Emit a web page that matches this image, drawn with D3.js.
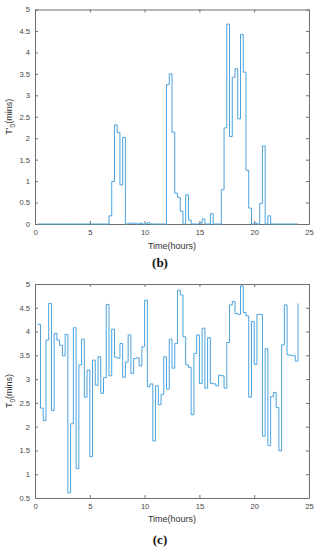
<!DOCTYPE html>
<html>
<head>
<meta charset="utf-8">
<script src="https://cdn.jsdelivr.net/npm/d3@7"></script>
<style>
  body { margin: 0; background: #fff; }
  svg { display: block; }
</style>
</head>
<body>
<div id="chart"></div>
<script>
const width = 320
const height = 550

// 15-minute steps, first sample at 0.25 h, last at 24 h
const stepHours = 0.25;

// panel (b): T'0 in minutes
const tPrimeValues = [
  0, 0, 0, 0, 0, 0, 0, 0,            // 0.25 - 2.0
  0, 0, 0, 0, 0, 0, 0, 0,            // 2.25 - 4.0
  0, 0, 0, 0, 0, 0, 0, 0,            // 4.25 - 6.0
  0, 0, 0.19, 0.99, 2.31, 2.13, 0.91, 2.02, // 6.25 - 8.0
  0, 0.02, 0.02, 0.02, 0, 0.02, 0, 0, // 8.25 - 10.0
  0.03, 0, 0, 0, 0, 0, 0, 3.25,      // 10.25 - 12.0
  3.50, 2.14, 0.72, 0.62, 0.30, 0, 0.68, 0.09, // 12.25 - 14.0
  0, 0, 0, 0.02, 0.12, 0, 0, 0.24,   // 14.25 - 16.0
  0, 0, 0, 0.80, 2.24, 4.66, 2.04, 3.42, // 16.25 - 18.0
  3.62, 2.45, 4.42, 3.54, 1.25, 0.37, 0, 0.02, // 18.25 - 20.0
  0, 0.48, 1.82, 0, 0.19, 0, 0, 0,   // 20.25 - 22.0
  0, 0, 0, 0, 0, 0, 0, 0             // 22.25 - 24.0
];

// panel (c): T0 in minutes
const tValues = [
  4.15, 2.39, 2.13, 3.82, 4.59, 2.34, 3.96, 3.82,   // 0.25 - 2.0
  3.71, 3.49, 3.94, 0.61, 2.06, 4.08, 1.12, 3.30,   // 2.25 - 4.0
  3.84, 2.62, 3.19, 1.37, 3.40, 2.87, 3.47, 2.70,   // 4.25 - 6.0
  3.03, 4.57, 3.07, 4.05, 3.46, 3.44, 3.75, 3.04,   // 6.25 - 8.0
  3.36, 3.93, 3.12, 3.43, 3.45, 3.28, 3.68, 4.66,   // 8.25 - 10.0
  2.84, 2.90, 1.70, 2.86, 2.46, 2.68, 3.47, 2.79,   // 10.25 - 12.0
  3.84, 3.23, 3.75, 4.87, 4.77, 3.89, 3.30, 3.25,   // 12.25 - 14.0
  2.25, 3.54, 3.93, 2.91, 4.07, 2.81, 3.87, 2.91,   // 14.25 - 16.0
  2.90, 2.86, 3.08, 3.07, 2.81, 3.77, 4.56, 4.63,   // 16.25 - 18.0
  4.38, 4.36, 4.96, 4.40, 4.33, 2.62, 4.21, 3.31,   // 18.25 - 20.0
  4.36, 4.36, 1.80, 3.64, 1.60, 2.63, 2.72, 2.40,   // 20.25 - 22.0
  1.49, 3.72, 4.56, 3.51, 3.50, 3.49, 3.38, 4.59    // 22.25 - 24.0
];

const xTicks = [0, 5, 10, 15, 20, 25];
const yTicksB = [0, 0.5, 1, 1.5, 2, 2.5, 3, 3.5, 4, 4.5, 5];
const yTicksC = [0.5, 1, 1.5, 2, 2.5, 3, 3.5, 4, 4.5, 5];

const lineColor = "#4ba3de";
const axisColor = "#6f6f6f";

const svg = d3.select("#chart").append("svg")
  .attr("width", width)
  .attr("height", height);

function panel(opts) {
  const x = d3.scaleLinear().domain([0, 25]).range([35, 309]);
  const y = d3.scaleLinear().domain(opts.yDomain).range([opts.bottom, opts.top]);

  const g = svg.append("g");

  const pts = opts.values.map((v, i) => [(i + 1) * stepHours, v]);

  // axes, MATLAB-like box with inward ticks
  g.append("g")
    .attr("transform", `translate(0,${opts.bottom})`)
    .call(d3.axisBottom(x).tickValues(xTicks).tickSizeInner(-3).tickSizeOuter(0).tickPadding(6).tickFormat(d3.format("")));
  g.append("g")
    .attr("transform", `translate(0,${opts.top})`)
    .call(d3.axisTop(x).tickValues(xTicks).tickSizeInner(-3).tickSizeOuter(0).tickFormat(""));
  g.append("g")
    .attr("transform", "translate(35,0)")
    .call(d3.axisLeft(y).tickValues(opts.yTicks).tickSizeInner(-3).tickSizeOuter(0).tickPadding(5).tickFormat(d3.format("")));
  g.append("g")
    .attr("transform", "translate(309,0)")
    .call(d3.axisRight(y).tickValues(opts.yTicks).tickSizeInner(-3).tickSizeOuter(0).tickFormat(""));

  g.selectAll(".domain").attr("stroke", axisColor);
  g.selectAll(".tick line").attr("stroke", axisColor);
  g.selectAll(".tick text")
    .attr("fill", "#444")
    .attr("font-family", "Liberation Sans, Arial, sans-serif")
    .attr("font-size", 7.6);

  const line = d3.line()
    .x(d => x(d[0]))
    .y(d => y(d[1]))
    .curve(d3.curveStepAfter);

  g.append("path")
    .datum(pts)
    .attr("fill", "none")
    .attr("stroke", lineColor)
    .attr("stroke-width", 1)
    .attr("d", line);

  // x label
  g.append("text")
    .attr("x", 172)
    .attr("y", opts.xLabelY)
    .attr("text-anchor", "middle")
    .attr("fill", "#333")
    .attr("font-family", "Liberation Sans, Arial, sans-serif")
    .attr("font-size", 9)
    .text("Time(hours)");

  // y label, rotated
  const yl = g.append("text")
    .attr("transform", `translate(12,${(opts.top + opts.bottom) / 2}) rotate(-90)`)
    .attr("text-anchor", "middle")
    .attr("fill", "#333")
    .attr("font-family", "Liberation Sans, Arial, sans-serif")
    .attr("font-size", 9);
  yl.append("tspan").text(opts.yName);
  yl.append("tspan").attr("font-size", 6.5).attr("dy", 2.5).text("0");
  yl.append("tspan").attr("dy", -2.5).text("(mins)");

  // caption
  svg.append("text")
    .attr("x", 160)
    .attr("y", opts.captionY)
    .attr("text-anchor", "middle")
    .attr("fill", "#111")
    .attr("font-family", "Liberation Serif, Times New Roman, serif")
    .attr("font-weight", "bold")
    .attr("font-size", 13)
    .text(opts.caption);
}

panel({
  values: tPrimeValues,
  yDomain: [0, 5],
  yTicks: yTicksB,
  top: 9.5,
  bottom: 224,
  yName: "T'",
  xLabelY: 249,
  caption: "(b)",
  captionY: 267
});

panel({
  values: tValues,
  yDomain: [0.5, 5],
  yTicks: yTicksC,
  top: 284,
  bottom: 498,
  yName: "T",
  xLabelY: 522,
  caption: "(c)",
  captionY: 544
});
</script>
</body>
</html>
